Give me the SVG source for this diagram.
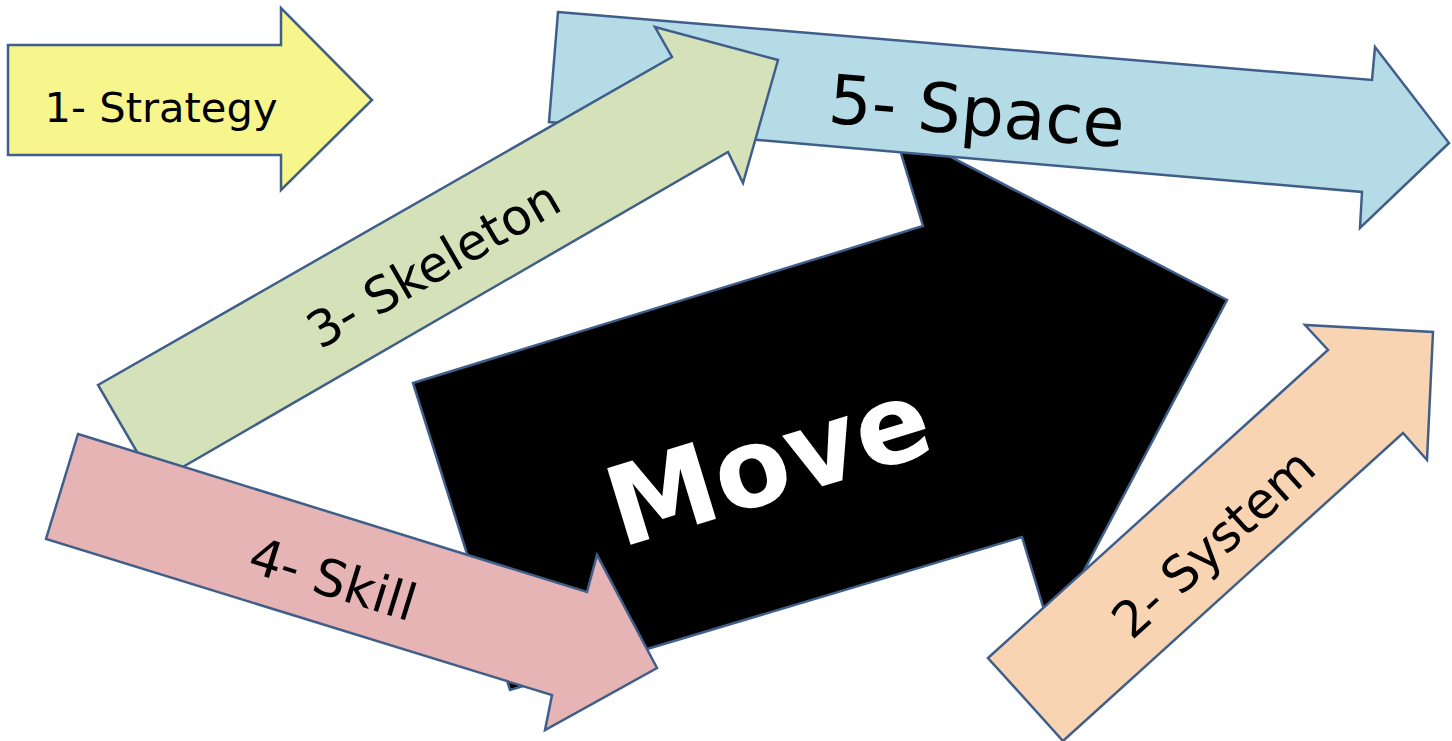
<svg xmlns="http://www.w3.org/2000/svg" width="1452" height="741" viewBox="0 0 1452 741">
<style>
.arrow{stroke:#3f5f8a;stroke-width:2.5;stroke-linejoin:miter}
.lbl{font-family:"DejaVu Sans","Verdana",sans-serif;fill:#000;text-anchor:middle}
.move{font-family:"DejaVu Sans","Verdana",sans-serif;font-weight:bold;fill:#fff;text-anchor:middle}
</style>
<rect width="1452" height="741" fill="#fff"/>
<g id="move">
<polygon class="arrow" fill="#000" points="413,383 923,226 893,127 1227,300 1051,633 1022,537 510,690"/>
<text class="move" font-size="110" transform="translate(768,462) rotate(-17)" y="39">Move</text>
</g>
<g id="space">
<polygon class="arrow" fill="#b5dbe7" points="558,12 1372,80 1375,47 1449,143 1360,228 1362,192 549,122"/>
<text class="lbl" font-size="68" transform="translate(977,110) rotate(4.8)" y="25">5- Space</text>
</g>
<g id="skeleton">
<polygon class="arrow" fill="#d5e1b9" points="98,385 672,57 655,27 778,60 743,183 728,152 155,483"/>
<text class="lbl" font-size="50" transform="translate(433,264) rotate(-30)" y="18">3- Skeleton</text>
</g>
<g id="skill">
<polygon class="arrow" fill="#e6b4b4" points="78,434 587,592 597,555 657,668 545,730 552,695 46,539"/>
<text class="lbl" font-size="51" transform="translate(333,579) rotate(17.2)" y="18">4- Skill</text>
</g>
<g id="system">
<polygon class="arrow" fill="#f9d4b2" points="988,658 1328,350 1305,325 1433,332 1427,460 1403,433 1063,741"/>
<text class="lbl" font-size="50" transform="translate(1213,543) rotate(-42.2)" y="18">2- System</text>
</g>
<g id="strategy">
<polygon class="arrow" fill="#f7f68d" points="8,45 281,45 281,8 372,100 281,190 281,155 8,155"/>
<text class="lbl" font-size="40" x="161" y="122" textLength="233" lengthAdjust="spacingAndGlyphs">1- Strategy</text>
</g>
<g id="connectors"/>
</svg>
